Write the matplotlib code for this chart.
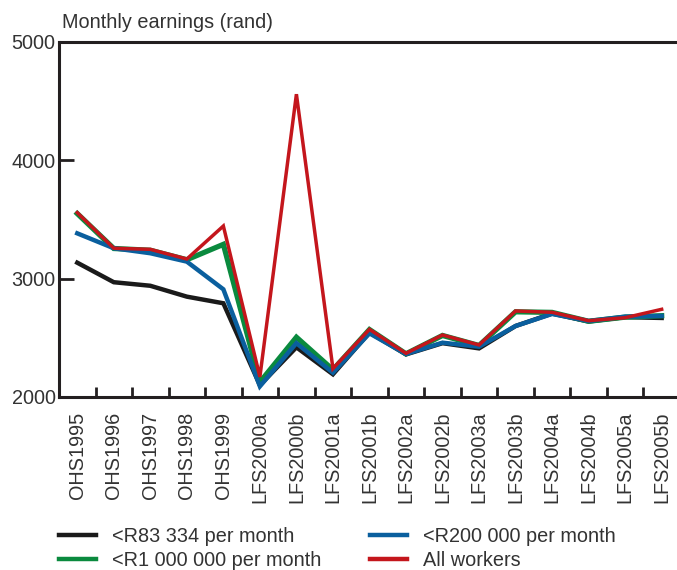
import matplotlib
matplotlib.use("Agg")
import matplotlib.pyplot as plt
import numpy as np

categories = ["OHS1995", "OHS1996", "OHS1997", "OHS1998", "OHS1999",
              "LFS2000a", "LFS2000b", "LFS2001a", "LFS2001b", "LFS2002a",
              "LFS2002b", "LFS2003a", "LFS2003b", "LFS2004a", "LFS2004b",
              "LFS2005a", "LFS2005b"]

r83k = [3135, 2970, 2940, 2848, 2792, 2100, 2420, 2192, 2545, 2360,
        2455, 2411, 2600, 2705, 2638, 2675, 2668]
r200k = [3383, 3257, 3215, 3144, 2910, 2090, 2455, 2205, 2538, 2363,
         2459, 2425, 2600, 2702, 2642, 2679, 2685]
r1m = [3550, 3255, 3240, 3160, 3290, 2125, 2505, 2230, 2570, 2365,
       2520, 2435, 2720, 2715, 2640, 2675, 2687]
allw = [3558, 3257, 3248, 3166, 3445, 2170, 4559, 2240, 2572, 2369,
        2524, 2440, 2727, 2716, 2645, 2670, 2741]

series_labels = ["<R83 334 per month", "<R1 000 000 per month",
                 "<R200 000 per month", "All workers"]

plt.rcParams['font.family'] = ['Liberation Sans', 'DejaVu Sans']
txt = "#333333"
spine_c = "#231f20"
fs = 14.3

W, H = 677, 570
fig = plt.figure(figsize=(W / 100, H / 100), dpi=100)
ax = fig.add_axes([59 / W, 1 - 397 / H, 1 - 59 / W, (397 - 42) / H])

x = np.arange(len(categories))
l_black, = ax.plot(x, r83k, color="#1a1a1a", lw=3.2, solid_joinstyle='miter', zorder=2)
l_blue, = ax.plot(x, r200k, color="#0a5f9e", lw=3.2, solid_joinstyle='miter', zorder=3)
l_green, = ax.plot(x, r1m, color="#0a8a3e", lw=3.8, solid_joinstyle='miter', zorder=2.5)
l_red, = ax.plot(x, allw, color="#c4161c", lw=2.5, solid_joinstyle='miter', zorder=4)

ax.set_xlim(-0.5, 16.42)
ax.set_ylim(2000, 5000)

ax.spines["right"].set_visible(False)
for s in ["left", "top", "bottom"]:
    ax.spines[s].set_linewidth(2.2)
    ax.spines[s].set_color(spine_c)

ax.set_yticks([2000, 3000, 4000, 5000])
ax.set_yticklabels(["2000", "3000", "4000", "5000"])
ax.tick_params(axis='y', direction='in', length=11, width=2, color=spine_c,
               labelsize=fs, labelcolor=txt, pad=2.5)

ax.set_xticks(x)
ax.set_xticklabels(categories, rotation=90)
ax.tick_params(axis='x', which='major', length=0, labelsize=fs, labelcolor=txt, pad=10.5)
ax.set_xticks(np.arange(0.5, 16.5, 1.0), minor=True)
ax.tick_params(axis='x', which='minor', direction='in', length=7, width=2, color=spine_c)

fig.text(62 / W, 1 - 22 / H, "Monthly earnings (rand)", fontsize=fs, color=txt,
         ha='left', va='center')

common = dict(ncol=1, frameon=False, loc='upper left', fontsize=fs,
              handlelength=1.85, handletextpad=0.8, labelspacing=0.25,
              borderpad=0, borderaxespad=0, labelcolor=txt)
leg1 = fig.legend([l_black, l_green], series_labels[:2],
                  bbox_to_anchor=(59 / W, 1 - 527 / H), **common)
leg2 = fig.legend([l_blue, l_red], series_labels[2:],
                  bbox_to_anchor=(370 / W, 1 - 527 / H), **common)
for leg in (leg1, leg2):
    for h in leg.legend_handles:
        h.set_linewidth(3.2)

fig.savefig("out.png", dpi=100)
